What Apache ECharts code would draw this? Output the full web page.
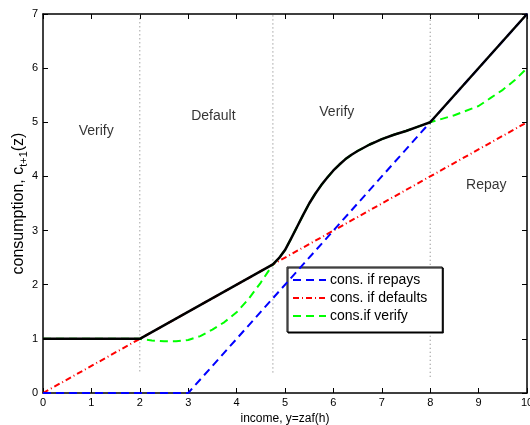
<!DOCTYPE html>
<html><head><meta charset="utf-8">
<script src="https://cdn.jsdelivr.net/npm/echarts@6/dist/echarts.min.js"></script>
<style>html,body{margin:0;padding:0;background:#fff}#c{width:530px;height:425px}</style>
</head><body><div id="c"></div>
<script>
// ---- data ----
var xTicks = [0,1,2,3,4,5,6,7,8,9,10];
var yTicks = [0,1,2,3,4,5,6,7];
var blackX = [0,2,4.75,4.875,5,5.125,5.25,5.375,5.5,5.625,5.75,5.875,6,6.125,6.25,6.375,6.5,6.625,6.75,6.875,7,7.25,7.5,7.75,8,10];
var blackY = [1,1,2.375,2.49,2.64,2.85,3.07,3.29,3.5,3.68,3.84,3.98,4.11,4.22,4.32,4.40,4.47,4.53,4.59,4.64,4.69,4.77,4.84,4.92,5,7];
var repayX = [0,3,8,10];
var repayY = [0,0,5,7];
var defaultX = [0,10];
var defaultY = [0,5];
var verifyX = [0,2,2.25,2.5,2.75,3,3.25,3.5,3.75,4,4.25,4.5,4.75,4.875,5,5.125,5.25,5.375,5.5,5.625,5.75,5.875,6,6.125,6.25,6.375,6.5,6.625,6.75,6.875,7,7.25,7.5,7.75,8,8.5,9,9.25,9.5,9.75,10];
var verifyY = [1,1,0.97,0.955,0.955,0.98,1.05,1.17,1.31,1.49,1.74,2.04,2.375,2.49,2.64,2.85,3.07,3.29,3.5,3.68,3.84,3.98,4.11,4.22,4.32,4.40,4.47,4.53,4.59,4.64,4.69,4.77,4.84,4.92,5,5.13,5.3,5.45,5.6,5.78,6];
var boundaryX = [2,4.75,8];
var boundaryLow = [0.4,0.38,0.3];
var boundaryTop = 7;
var regionNames = ['Verify','Default','Verify','Repay'];
var regionX = [1.1,3.52,6.07,9.16];
var regionY = [4.84,5.11,5.19,3.84];
var legendNames = ['cons. if repays','cons. if defaults','cons.if verify'];

function zip(xs, ys){ return xs.map(function(x,i){ return [x, ys[i]]; }); }

var font = 'Liberation Sans, Arial, Helvetica, sans-serif';
var series = [];
boundaryX.forEach(function(bx,i){
  series.push({type:'line', xAxisIndex:0, yAxisIndex:0, symbol:'none', silent:true,
    data:[[bx,boundaryLow[i]],[bx,boundaryTop]],
    lineStyle:{color:'#777', width:1, type:[1,3]}, z:1});
});
series.push({name:legendNames[1], type:'line', symbol:'none', data:zip(defaultX,defaultY),
  lineStyle:{color:'#ff0000', width:2, type:[6,3,1,3]}, itemStyle:{color:'#ff0000'}, z:3});
series.push({name:legendNames[0], type:'line', symbol:'none', data:zip(repayX,repayY),
  lineStyle:{color:'#0000ff', width:2, type:[8,5]}, itemStyle:{color:'#0000ff'}, z:4});
series.push({name:legendNames[2], type:'line', symbol:'none', data:zip(verifyX,verifyY),
  lineStyle:{color:'#00ff00', width:2, type:[8,5]}, itemStyle:{color:'#00ff00'}, z:5});
series.push({name:'black', type:'line', symbol:'none', data:zip(blackX,blackY),
  lineStyle:{color:'#000', width:2.5, join:'round'}, itemStyle:{color:'#000'}, z:6});
series.push({type:'scatter', symbolSize:0, silent:true,
  data:regionNames.map(function(n,i){ return {value:[regionX[i],regionY[i]], name:n}; }),
  label:{show:true, position:'inside', formatter:'{b}', color:'#000', fontSize:14, fontFamily:font}, z:7});

var axisCommon = {
  axisLine:{show:true, onZero:false, lineStyle:{color:'#000', width:1.5}},
  axisTick:{show:true, inside:true, length:5, lineStyle:{color:'#000', width:1}},
  splitLine:{show:false}
};
function mk(o){ return Object.assign({}, JSON.parse(JSON.stringify(axisCommon)), o); }

var chart = echarts.init(document.getElementById('c'));
chart.setOption({
  animation:false,
  backgroundColor:'#fff',
  grid:{left:43, right:3, top:14, bottom:32, containLabel:false, outerBoundsMode:'none'},
  legend:{
    data:legendNames.map(function(n){ return {name:n, itemStyle:{opacity:0}}; }),
    orient:'vertical', left:287, top:267,
    itemWidth:33, itemHeight:14, itemGap:4,
    padding:[6,15,9,5], borderColor:'#000', borderWidth:1, backgroundColor:'#fff',
    shadowColor:'#000', shadowOffsetX:1, shadowOffsetY:1, shadowBlur:0,
    itemStyle:{opacity:0},
    textStyle:{fontSize:14, fontFamily:font, color:'#000', padding:[0,0,0,-1]},
    selectedMode:false
  },
  xAxis:[
    mk({type:'value', position:'bottom', min:0, max:10, interval:1,
      name:'income, y=zaf(h)', nameLocation:'middle', nameGap:20, nameMoveOverlap:false,
      nameTextStyle:{fontSize:12, fontFamily:font, color:'#000'},
      axisLabel:{fontSize:11, fontFamily:font, color:'#000', margin:4}}),
    mk({type:'value', position:'top', min:0, max:10, interval:1, axisLabel:{show:false}})
  ],
  yAxis:[
    mk({type:'value', position:'left', min:0, max:7, interval:1,
      name:'consumption, c{sub|t+1}(z)', nameLocation:'middle', nameGap:14, nameRotate:90,
      nameMoveOverlap:false,
      nameTextStyle:{fontSize:16, fontFamily:font, color:'#000',
        rich:{sub:{fontSize:11, fontFamily:font, color:'#000', padding:[9,0,0,0]}}},
      axisLabel:{fontSize:11, fontFamily:font, color:'#000', margin:5}}),
    mk({type:'value', position:'right', min:0, max:7, interval:1, axisLabel:{show:false}})
  ],
  series:series
});
</script></body></html>
